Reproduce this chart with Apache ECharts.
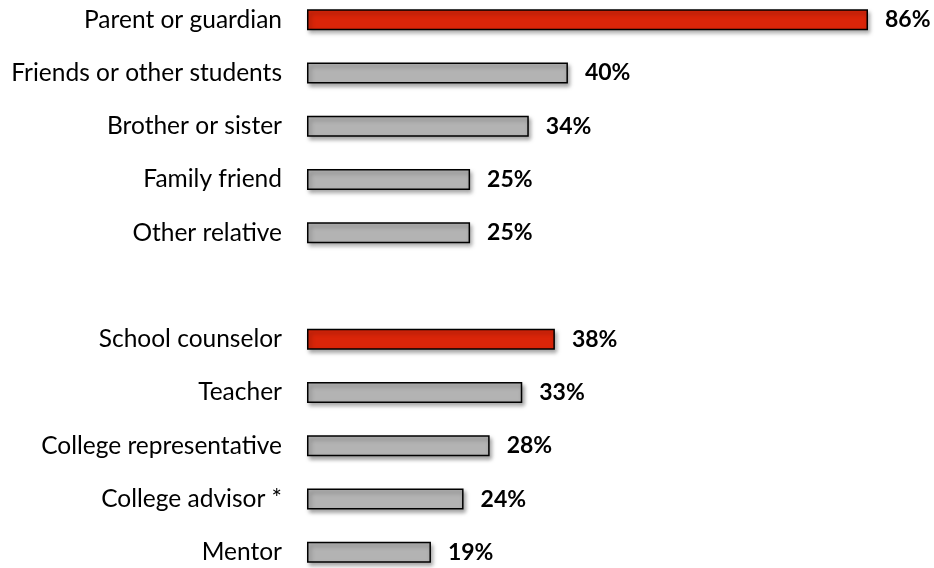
<!DOCTYPE html>
<html><head><meta charset="utf-8">
<script src="https://cdn.jsdelivr.net/npm/echarts@6/dist/echarts.min.js"></script>
<style>html,body{margin:0;padding:0;background:#fff}#c{width:934px;height:568px}</style>
</head><body><div id="c"></div>
<script>
const categories = ["Parent or guardian","Friends or other students","Brother or sister","Family friend","Other relative","","School counselor","Teacher","College representative","College advisor *","Mentor"];
const values = [86,40,34,25,25,null,38,33,28,24,19];
const highlighted = ["Parent or guardian","School counselor"];

const RED = '#DA2509', GRAY = '#B3B3B3';
const chart = echarts.init(document.getElementById('c'));
chart.setOption({
  animation:false,
  grid:{left:307,right:66,top:-7,height:586,containLabel:false,outerBoundsMode:'none'},
  xAxis:{type:'value',min:0,max:86,show:false},
  yAxis:{type:'category',inverse:true,data:categories,
    axisLine:{show:false},axisTick:{show:false},
    axisLabel:{margin:25,fontFamily:'Lato',fontSize:24.5,color:'#000'}},
  series:[{type:'bar',barWidth:21,
    data:values.map((v,i)=>({value:v,itemStyle:{color:highlighted.includes(categories[i])?RED:GRAY}})),
    itemStyle:{borderColor:'#000',borderWidth:1.5,shadowBlur:4,shadowOffsetX:2,shadowOffsetY:3,shadowColor:'rgba(0,0,0,0.35)'},
    label:{show:true,position:'right',distance:17,formatter:p=>p.value+'%',fontFamily:'Lato',fontWeight:'bold',fontSize:23,color:'#000'}
  }]
});
</script></body></html>
